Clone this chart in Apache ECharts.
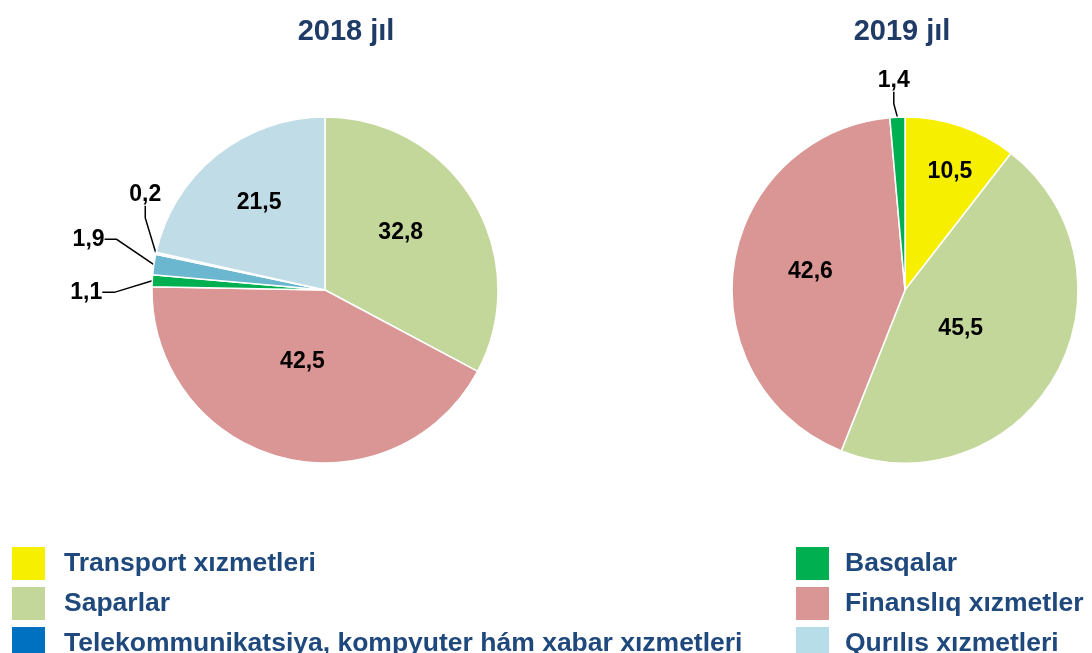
<!DOCTYPE html>
<html>
<head>
<meta charset="utf-8">
<script src="https://cdn.jsdelivr.net/npm/echarts@6/dist/echarts.min.js"></script>
<style>
  html, body { margin: 0; padding: 0; background: #fff; }
  #chart { width: 1092px; height: 653px; }
</style>
</head>
<body>
<div id="chart"></div>
<script>
// data
var years = ['2018 jıl', '2019 jıl'];
var names2018 = ['Saparlar', 'Finanslıq xızmetler', 'Basqalar', 'Telekommunikatsiya, kompyuter hám xabar xızmetleri', 'Transport xızmetleri', 'Qurılıs xızmetleri'];
var values2018 = [32.8, 42.5, 1.1, 1.9, 0.2, 21.5];
var names2019 = ['Transport xızmetleri', 'Saparlar', 'Finanslıq xızmetler', 'Basqalar'];
var values2019 = [10.5, 45.5, 42.6, 1.4];
var legendLeft = ['Transport xızmetleri', 'Saparlar', 'Telekommunikatsiya, kompyuter hám xabar xızmetleri'];
var legendRight = ['Basqalar', 'Finanslıq xızmetler', 'Qurılıs xızmetleri'];

var colors = {
    'Transport xızmetleri': '#f7ef00',
    'Saparlar': '#c4d79b',
    'Telekommunikatsiya, kompyuter hám xabar xızmetleri': '#0070c0',
    'Basqalar': '#00b050',
    'Finanslıq xızmetler': '#d99694',
    'Qurılıs xızmetleri': '#b7dee8'
};
// slice colours in the 2018 pie differ a bit from the legend
var colors2018 = ['#c4d79b', '#d99694', '#00b050', '#6bb7cf', '#f4f9fb', '#c0dce6'];
var small = 2; // values below this get an outside label

// label nudges (px) so labels sit where the original puts them
var labelShift = [
    [[-1, -11], [0, -15], [-24, -8], [-22, -36], [31, -56], [-10, -17]],
    [[16, -34], [-22, -6], [-6, -5], [30, -23]]
];

var textBlue = '#1f497d';

function buildData(names, values, cols) {
    return names.map(function (n, i) {
        var item = {
            name: n,
            value: values[i],
            itemStyle: { color: cols ? cols[i] : colors[n] }
        };
        if (values[i] < small) {
            item.label = { position: 'outside' };
            item.labelLine = { show: true, length: 14, length2: 12 };
        }
        return item;
    });
}

function legendData(list) {
    return list.map(function (n) {
        return { name: n, itemStyle: { color: colors[n] } };
    });
}

var pieBase = {
    type: 'pie',
    radius: 173,
    startAngle: 90,
    clockwise: true,
    avoidLabelOverlap: true,
    itemStyle: { borderColor: '#fff', borderWidth: 1.5 },
    label: {
        position: 'inside',
        formatter: function (p) { return String(p.value).replace('.', ','); },
        color: '#000',
        fontFamily: 'Liberation Sans',
        fontWeight: 'bold',
        fontSize: 23
    },
    labelLine: { lineStyle: { color: '#000', width: 1.5 }, smooth: false, minTurnAngle: 90 },
    labelLayout: function (p) {
        var s = labelShift[p.seriesIndex][p.dataIndex];
        var r = p.labelRect;
        // x/y (not dx/dy) so the leader line is rebuilt to the moved label
        return { x: r.x + s[0], y: r.y + s[1], align: 'left', verticalAlign: 'top' };
    },
    emphasis: { disabled: true }
};

var titleStyle = { fontFamily: 'Liberation Sans', fontSize: 29, fontWeight: 'bold', color: '#1f3b66' };
var legendText = { fontFamily: 'Liberation Sans', fontSize: 26.5, fontWeight: 'bold', color: textBlue };

var chart = echarts.init(document.getElementById('chart'));

chart.setOption({
    animation: false,
    title: [
        { text: years[0], left: 346, top: 17, padding: 0, textAlign: 'center', textStyle: titleStyle },
        { text: years[1], left: 902, top: 17, padding: 0, textAlign: 'center', textStyle: titleStyle }
    ],
    legend: [
        {
            orient: 'vertical', left: 10, top: 545, height: 160, padding: 0,
            itemWidth: 35, itemHeight: 35, itemGap: 3, icon: 'rect',
            selectedMode: false,
            data: legendData(legendLeft),
            textStyle: Object.assign({ padding: [0, 0, 0, 13] }, legendText)
        },
        {
            orient: 'vertical', left: 794, top: 545, height: 160, padding: 0,
            itemWidth: 35, itemHeight: 35, itemGap: 3, icon: 'rect',
            selectedMode: false,
            data: legendData(legendRight),
            textStyle: Object.assign({ padding: [0, 0, 0, 10] }, legendText)
        }
    ],
    series: [
        Object.assign({}, pieBase, {
            name: years[0],
            center: [325, 290],
            data: buildData(names2018, values2018, colors2018)
        }),
        Object.assign({}, pieBase, {
            name: years[1],
            center: [905, 290],
            data: buildData(names2019, values2019, null)
        })
    ]
});
</script>
</body>
</html>
